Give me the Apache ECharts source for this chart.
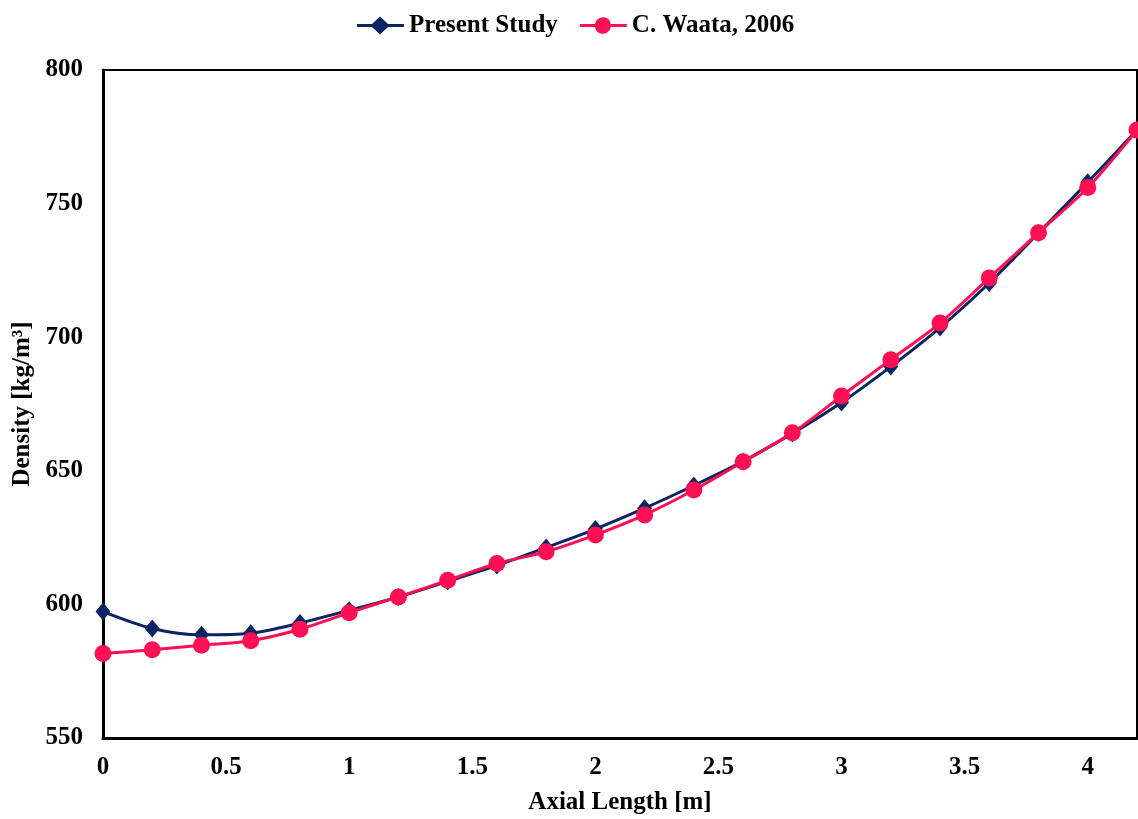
<!DOCTYPE html>
<html>
<head>
<meta charset="utf-8">
<script src="https://cdn.jsdelivr.net/npm/echarts@6/dist/echarts.min.js"></script>
<style>html,body{margin:0;padding:0;background:#fff}#c{width:1138px;height:819px}</style>
</head>
<body>
<div id="c"></div>
<script>
const axialLength = [0, 0.2, 0.4, 0.6, 0.8, 1.0, 1.2, 1.4, 1.6, 1.8, 2.0, 2.2, 2.4, 2.6, 2.8, 3.0, 3.2, 3.4, 3.6, 3.8, 4.0, 4.2];
const presentStudy = [597.3, 591, 588.6, 589.2, 593, 597.8, 602.8, 608.6, 614.6, 621.3, 628.2, 636, 644.5, 653.5, 664, 675.6, 689, 703.6, 720.3, 739, 758, 777.5];
const waata2006 = [581.6, 583, 584.7, 586.4, 590.7, 596.9, 602.8, 609, 615.3, 619.7, 626, 633.5, 642.8, 653.4, 664.2, 678, 691.6, 705.3, 722.2, 739.1, 756, 777.5];
const yTicks = [550, 600, 650, 700, 750, 800];

const FONT = '"Liberation Serif", "Times New Roman", serif';
const BLUE = '#0b2463';
const RED = '#ff1054';

const ICON_DIAMOND = 'path://M0,7.5 L15,7.5 L23,0 L31,7.5 L47,7.5 L47,10.5 L31,10.5 L23,18 L15,10.5 L0,10.5 Z';
const ICON_CIRCLE = 'path://M0,7.5 L15.1,7.5 A8,8 0 0,1 30.9,7.5 L47,7.5 L47,10.5 L30.9,10.5 A8,8 0 0,1 15.1,10.5 L0,10.5 Z';

const chart = echarts.init(document.getElementById('c'), null, {renderer: 'canvas'});
chart.setOption({
  backgroundColor: '#fff',
  animation: false,
  textStyle: {fontFamily: FONT},
  legend: {
    top: 8,
    left: 352,
    itemGap: 22,
    itemWidth: 47,
    itemHeight: 18,
    textStyle: {fontFamily: FONT, fontWeight: 'bold', fontSize: 25, color: '#000'},
    data: [
      {name: 'Present Study', icon: ICON_DIAMOND},
      {name: 'C. Waata, 2006', icon: ICON_CIRCLE}
    ]
  },
  grid: {
    left: 103, right: 1, top: 70, bottom: 81,
    outerBoundsMode: 'none',
    containLabel: false,
    show: true, borderColor: '#000', borderWidth: 2
  },
  xAxis: {
    type: 'value',
    min: 0, max: 4.2, interval: 0.5,
    name: 'Axial Length [m]',
    nameLocation: 'middle',
    nameGap: 52,
    nameTextStyle: {fontFamily: FONT, fontWeight: 'bold', fontSize: 25, color: '#000'},
    axisLine: {show: true, lineStyle: {color: '#000', width: 3}},
    axisTick: {show: false},
    splitLine: {show: false},
    axisLabel: {
      showMaxLabel: false,
      margin: 17,
      fontFamily: FONT, fontWeight: 'bold', fontSize: 25, color: '#000',
      formatter: v => (Math.abs(v * 2 - Math.round(v * 2)) < 1e-6) ? String(+v.toFixed(1)) : ''
    }
  },
  yAxis: {
    type: 'value',
    min: yTicks[0], max: yTicks[yTicks.length - 1], interval: 50,
    name: 'Density [kg/m³]',
    nameLocation: 'middle',
    nameGap: 68,
    nameTextStyle: {fontFamily: FONT, fontWeight: 'bold', fontSize: 25, color: '#000'},
    axisLine: {show: true, lineStyle: {color: '#000', width: 3}},
    axisTick: {show: false},
    splitLine: {show: false},
    axisLabel: {margin: 20, fontFamily: FONT, fontWeight: 'bold', fontSize: 25, color: '#000'}
  },
  series: [
    {
      name: 'Present Study',
      type: 'line',
      smooth: 0.3,
      symbol: 'diamond',
      symbolSize: [15, 18],
      data: axialLength.map((x, i) => [x, presentStudy[i]]),
      lineStyle: {color: BLUE, width: 3},
      itemStyle: {color: BLUE},
      z: 2
    },
    {
      name: 'C. Waata, 2006',
      type: 'line',
      smooth: 0.3,
      symbol: 'circle',
      symbolSize: 17,
      data: axialLength.map((x, i) => [x, waata2006[i]]),
      lineStyle: {color: RED, width: 3},
      itemStyle: {color: RED},
      z: 3
    }
  ]
});
</script>
</body>
</html>
